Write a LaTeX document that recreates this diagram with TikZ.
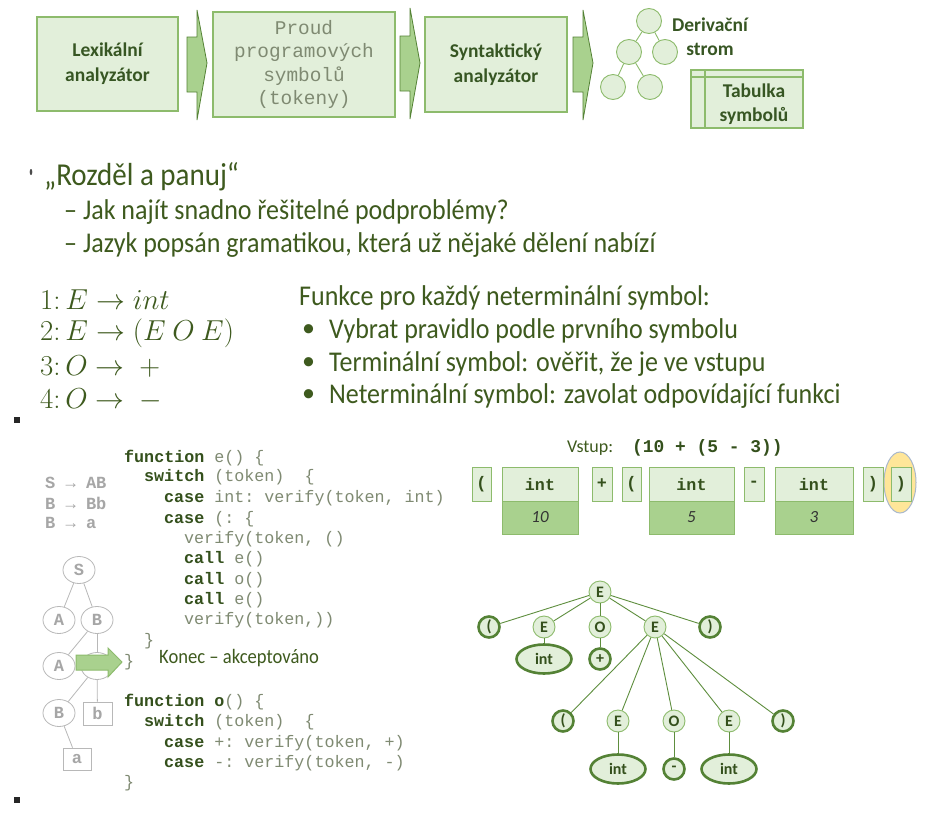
\documentclass[tikz,border=0pt]{standalone}
\usepackage{fontspec}
\usepackage{graphicx}
\setmainfont{Carlito}
\setmonofont{Liberation Mono}
\usetikzlibrary{shapes.geometric}
\definecolor{lightg}{HTML}{E2EFDA}
\definecolor{midg}{HTML}{A9D18E}
\definecolor{boxline}{HTML}{8DBB6C}
\definecolor{arrline}{HTML}{548235}
\definecolor{dgreen}{HTML}{375623}
\definecolor{bodyg}{HTML}{3E5A1E}
\definecolor{codegray}{HTML}{7F8A72}
\definecolor{kwgreen}{HTML}{34501C}
\definecolor{treegray}{HTML}{A6A6A6}
\definecolor{edgeg}{HTML}{5E8E3E}
\definecolor{thickg}{HTML}{548235}
\definecolor{hiyellow}{HTML}{FFE699}
\definecolor{hiblue}{HTML}{A9B8CC}
\newcommand{\codekw}[1]{\textbf{\textcolor{kwgreen}{#1}}}
\newcommand{\tallt}[1]{\scalebox{1}[1.1]{#1}}
\newcommand{\grammath}[1]{\scalebox{1.16}{#1}}
\tikzset{
  topbox/.style={draw=boxline, fill=lightg, line width=1.2pt, align=center, text=dgreen,
    font=\bfseries\fontsize{19.5}{25}\selectfont, inner sep=0pt},
  blockarr/.style={fill=midg, draw=arrline, line width=0.8pt, line join=miter},
  dcirc/.style={circle, draw=boxline, fill=lightg, minimum size=25pt, inner sep=0pt, line width=0.9pt},
  treeedge/.style={draw=boxline, line width=0.9pt},
  bodytxt/.style={anchor=west, text=bodyg, font=\fontsize{26}{31}\selectfont, inner sep=0pt},
  mathtxt/.style={anchor=west, text=bodyg, font=\fontsize{24.88}{30}\selectfont, inner sep=0pt},
  codeline/.style={anchor=west, text=codegray, font=\ttfamily\fontsize{16.7}{20}\selectfont, inner sep=0pt},
  graygram/.style={anchor=west, text=treegray, font=\ttfamily\bfseries\fontsize{17}{20}\selectfont, inner sep=0pt},
  gnode/.style={ellipse, draw=treegray!80, line width=0.8pt, minimum width=32pt, minimum height=27pt,
    inner sep=0pt, text=treegray, font=\ttfamily\bfseries\fontsize{17}{20}\selectfont},
  gbox/.style={rectangle, draw=treegray!80, line width=0.8pt, minimum width=29pt, minimum height=23pt,
    inner sep=0pt, text=treegray, font=\ttfamily\bfseries\fontsize{17}{20}\selectfont},
  grayedge/.style={draw=treegray!80, line width=0.8pt},
  tokbox/.style={rectangle, draw=boxline, fill=lightg, line width=1pt, minimum height=34pt, inner sep=0pt,
    text=kwgreen, font=\ttfamily\bfseries\fontsize{16.7}{20}\selectfont},
  valbox/.style={rectangle, draw=boxline, fill=midg, line width=1pt, minimum height=33pt, inner sep=0pt,
    text=black!80, font=\itshape\fontsize{17}{20}\selectfont},
  pn/.style={circle, draw=boxline, fill=lightg, line width=0.9pt, minimum size=22pt, inner sep=0pt,
    text=kwgreen, font=\bfseries\fontsize{16}{18}\selectfont},
  pt/.style={pn, draw=thickg, line width=2.6pt, minimum size=21pt},
  pint/.style={ellipse, draw=thickg, fill=lightg, line width=2.6pt, minimum width=55pt, minimum height=29pt,
    inner sep=0pt, text=kwgreen, font=\bfseries\fontsize{16}{18}\selectfont},
  pedge/.style={draw=edgeg, line width=0.9pt},
}
\begin{document}
\begin{tikzpicture}[x=1pt,y=-1pt]
\useasboundingbox (0,0) rectangle (930,814);
\fill[white] (0,0) rectangle (930,814);

% ---------- top pipeline ----------
\node[topbox, minimum width=141pt, minimum height=94pt] (lex) at (107.5,64) {Lexikální\\analyzátor};
\node[topbox, minimum width=182pt, minimum height=105pt, text=codegray,
  font=\ttfamily\fontsize{19.4}{23.3}\selectfont] (tok) at (304,64.5) {Proud\\programových\\symbolů\\(tokeny)};
\node[topbox, minimum width=142pt, minimum height=95pt] (syn) at (496,64.5) {Syntaktický\\analyzátor};

\draw[blockarr] (187,37) -- (197,37) -- (197,10) -- (207,63) -- (197,120) -- (197,92) -- (187,92) -- cycle;
\draw[blockarr] (400,36) -- (410,36) -- (410,8) -- (420,63) -- (410,119) -- (410,91) -- (400,91) -- cycle;
\draw[blockarr] (573,37) -- (583,37) -- (583,10) -- (593,63) -- (583,120) -- (583,92) -- (573,92) -- cycle;

\node[dcirc] (t1) at (649,21) {};
\node[dcirc] (t2) at (629,52) {};
\node[dcirc] (t3) at (665,52) {};
\node[dcirc] (t4) at (613,87) {};
\node[dcirc] (t5) at (650,87) {};
\draw[treeedge] (t1) -- (t2);
\draw[treeedge] (t1) -- (t3);
\draw[treeedge] (t2) -- (t4);
\draw[treeedge] (t2) -- (t5);
\node[align=center, text=dgreen, font=\bfseries\fontsize{19.5}{24}\selectfont, inner sep=0pt] (der) at (710,37) {Derivační\\strom};

\draw[boxline, fill=lightg, line width=1.2pt] (691,70) rectangle (803,128);
\draw[boxline, line width=1.2pt] (691,77) -- (803,77);
\draw[boxline, line width=1.2pt] (705,70) -- (705,128);
\node[align=center, text=dgreen, font=\bfseries\fontsize{19.5}{24}\selectfont, inner sep=0pt] (tab) at (754,104) {Tabulka\\symbolů};

% ---------- bullet text ----------
\fill[black!70] (31,172) ellipse (1.3pt and 3pt);
\node[bodytxt, font=\fontsize{29}{34}\selectfont] (h1) at (44,177) {\tallt{„Rozděl a panuj“}};
\node[bodytxt] (h2) at (64,212) {\tallt{– Jak najít snadno řešitelné podproblémy?}};
\node[bodytxt] (h3) at (64,245) {\tallt{– Jazyk popsán gramatikou, která už nějaké dělení nabízí}};

\node[mathtxt] (r1) at (40,300) {\grammath{$1\colon E \rightarrow int$}};
\node[mathtxt] (r2) at (40,333) {\grammath{$2\colon E \rightarrow (E\ O\ E)$}};
\node[mathtxt] (r3) at (40,367) {\grammath{$3\colon O \rightarrow\ +$}};
\node[mathtxt] (r4) at (40,400) {\grammath{$4\colon O \rightarrow\ -$}};

\node[bodytxt] (f0) at (299,298) {\tallt{Funkce pro každý neterminální symbol:}};
\node[bodytxt] (b1) at (302,331) {•};
\node[bodytxt] (b2) at (302,364) {•};
\node[bodytxt] (b3) at (302,396) {•};
\node[bodytxt] (f1) at (329,331) {\tallt{Vybrat pravidlo podle prvního symbolu}};
\node[bodytxt] (f2) at (329,364) {\tallt{Terminální symbol: ověřit, že je ve vstupu}};
\node[bodytxt] (f3) at (329,396) {\tallt{Neterminální symbol: zavolat odpovídající funkci}};

\fill[black!85] (14,417) rectangle (20,423);
\fill[black!85] (14,797) rectangle (20,803);

% ---------- code ----------
\node[codeline] (c1) at (124,458) {\codekw{function} e() \{};
\node[codeline] (c2) at (144,477) {\codekw{switch} (token)\ \ \{};
\node[codeline] (c3) at (164,498) {\codekw{case} int: verify(token, int)};
\node[codeline] (c4) at (164,519) {\codekw{case} (: \{};
\node[codeline] (c5) at (184,539) {verify(token, ()};
\node[codeline] (c6) at (184,559) {\codekw{call} e()};
\node[codeline] (c7) at (184,580) {\codekw{call} o()};
\node[codeline] (c8) at (184,600) {\codekw{call} e()};
\node[codeline] (c9) at (184,620) {verify(token,))};
\node[codeline] (c10) at (144,641) {\}};
\node[codeline] (c11) at (124,662) {\}};
\node[codeline] (c12) at (124,702) {\codekw{function o}() \{};
\node[codeline] (c13) at (144,722) {\codekw{switch} (token)\ \ \{};
\node[codeline] (c14) at (164,743) {\codekw{case} +: verify(token, +)};
\node[codeline] (c15) at (164,763) {\codekw{case} -: verify(token, -)};
\node[codeline] (c16) at (124,783) {\}};

% ---------- gray grammar + tree ----------
\node[graygram] (g1) at (45,483) {S → AB};
\node[graygram] (g2) at (45,503) {B → Bb};
\node[graygram] (g3) at (45,523) {B → a};

\node[gnode] (gS) at (79,570) {S};
\node[gnode] (gA1) at (59,620) {A};
\node[gnode] (gB1) at (97,620) {B};
\node[gnode] (gA2) at (59,666) {A};
\node[gnode] (gX) at (97,666) {};
\node[gnode] (gB2) at (59,713) {B};
\node[gbox] (gb) at (97.5,713.5) {b};
\node[gbox, minimum width=28pt, minimum height=22pt] (ga) at (77,759) {a};
\draw[grayedge] (gS) -- (gA1);
\draw[grayedge] (gS) -- (gB1);
\draw[grayedge] (gB1) -- (gA2);
\draw[grayedge] (gB1) -- (gX);
\draw[grayedge] (gX) -- (gB2);
\draw[grayedge] (gX) -- (gb);
\draw[grayedge] (gB2) -- (ga);

\draw[fill=midg, draw=boxline, line width=1pt, line join=miter]
  (76,655) -- (108,655) -- (108,648) -- (122,662) -- (108,677) -- (108,670) -- (76,670) -- cycle;
\node[anchor=west, text=bodyg, font=\fontsize{18.6}{22}\selectfont, inner sep=0pt] (konec) at (159,658) {\tallt{Konec – akceptováno}};

% ---------- input tokens ----------
\node[anchor=west, text=bodyg, font=\fontsize{18}{22}\selectfont, inner sep=0pt] (vst) at (567,448) {Vstup:};
\node[anchor=west, text=kwgreen, font=\ttfamily\bfseries\fontsize{17.9}{22}\selectfont, inner sep=0pt] (vexpr) at (632,448) {(10 + (5 - 3))};

\fill[hiyellow, draw=hiblue, line width=1pt] (900,482.5) ellipse (16pt and 30.5pt);

\node[tokbox, minimum width=19pt] (k1) at (481.5,484) {(};
\node[tokbox, minimum width=76pt] (k2) at (540,484) {int};
\node[valbox, minimum width=76pt] (v2) at (540,517.5) {10};
\node[tokbox, minimum width=20pt] (k3) at (602,484) {+};
\node[tokbox, minimum width=19pt] (k4) at (631.5,484) {(};
\node[tokbox, minimum width=85pt] (k5) at (691.5,484) {int};
\node[valbox, minimum width=85pt] (v5) at (691.5,517.5) {5};
\node[tokbox, minimum width=20pt] (k6) at (754,484) {-};
\node[tokbox, minimum width=78pt] (k7) at (814,484) {int};
\node[valbox, minimum width=78pt] (v7) at (814,517.5) {3};
\node[tokbox, minimum width=20pt] (k8) at (873,484) {)};
\node[tokbox, minimum width=20pt] (k9) at (901,484) {)};

% ---------- parse tree ----------
\node[pn] (root) at (600,592) {E};
\node[pt] (p1) at (489,627) {(};
\node[pn] (e1) at (544,627) {E};
\node[pn] (o1) at (600,627) {O};
\node[pn] (e2) at (655,627) {E};
\node[pt] (q1) at (710,627) {)};
\node[pint] (i1) at (544,659) {int};
\node[pt] (plus) at (600,659) {+};
\node[pt] (p2) at (563,721) {(};
\node[pn] (e3) at (618,721) {E};
\node[pn] (o2) at (674,721) {O};
\node[pn] (e4) at (729,721) {E};
\node[pt] (q2) at (783,721) {)};
\node[pint] (i2) at (618,769) {int};
\node[pt] (minus) at (674,769) {-};
\node[pint] (i3) at (729,769) {int};

\draw[pedge] (root) -- (p1);
\draw[pedge] (root) -- (e1);
\draw[pedge] (root) -- (o1);
\draw[pedge] (root) -- (e2);
\draw[pedge] (root) -- (q1);
\draw[pedge] (e1) -- (i1);
\draw[pedge] (o1) -- (plus);
\draw[pedge] (e2) -- (p2);
\draw[pedge] (e2) -- (e3);
\draw[pedge] (e2) -- (o2);
\draw[pedge] (e2) -- (e4);
\draw[pedge] (e2) -- (q2);
\draw[pedge] (e3) -- (i2);
\draw[pedge] (o2) -- (minus);
\draw[pedge] (e4) -- (i3);
\end{tikzpicture}
\end{document}
